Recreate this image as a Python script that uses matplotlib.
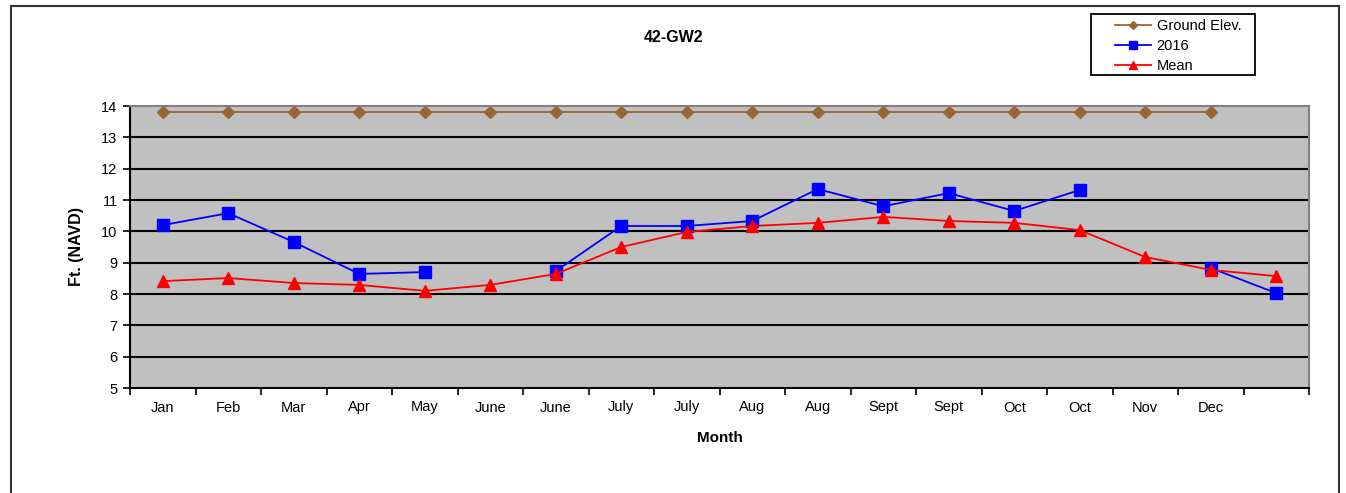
import numpy as np
import matplotlib
matplotlib.use("Agg")
import matplotlib.pyplot as plt
from matplotlib.patches import Rectangle

plt.rcParams['font.family'] = ['Liberation Sans', 'DejaVu Sans']

months = ['Jan', 'Feb', 'Mar', 'Apr', 'May', 'June', 'June', 'July', 'July',
          'Aug', 'Aug', 'Sept', 'Sept', 'Oct', 'Oct', 'Nov', 'Dec', '']
ground = [13.8] * 17 + [np.nan]
y2016 = [10.2, 10.58, 9.66, 8.64, 8.7, np.nan, 8.73, 10.17, 10.17,
         10.33, 11.35, 10.8, 11.22, 10.65, 11.32, np.nan, 8.83, 8.03]
mean = [8.41, 8.51, 8.35, 8.29, 8.1, 8.29, 8.64, 9.5, 9.98,
        10.17, 10.27, 10.46, 10.33, 10.27, 10.04, 9.18, 8.77, 8.57]

x = np.arange(len(months))

fig = plt.figure(figsize=(13.46, 4.93), dpi=100)
ax = fig.add_axes([130/1346, 1 - 388/493, (1309 - 130)/1346, (388 - 106)/493])
ax.set_facecolor('#c0c0c0')

ax.plot(x, ground, color='#996633', marker='D', markersize=6, lw=1.3, label='Ground Elev.')
ax.plot(x, y2016, color='#0000ff', marker='s', markersize=8.5, lw=1.3, label='2016')
ax.plot(x, mean, color='#ff0000', marker='^', markersize=8, lw=1.3, label='Mean')

ax.set_xlim(-0.5, len(months) - 0.5)
ax.set_ylim(5, 14)
ax.set_yticks(range(5, 15))
for v in range(6, 14):
    ax.axhline(v, color='black', lw=1.5, zorder=1)

ax.set_xticks(x)
ax.set_xticklabels(months, fontsize=10.5)
ax.set_xticks(np.arange(-0.5, len(months)), minor=True)
ax.tick_params(axis='x', which='major', length=0, pad=9)
ax.tick_params(axis='x', which='minor', length=5, width=1.2, direction='out')
ax.tick_params(axis='y', labelsize=10.5, length=5, width=1.2, pad=4)

for s in ['left', 'bottom']:
    ax.spines[s].set_color('black')
    ax.spines[s].set_linewidth(1.5)
for s in ['top', 'right']:
    ax.spines[s].set_color('#808080')
    ax.spines[s].set_linewidth(1.5)

ax.set_xlabel('Month', fontsize=11, fontweight='bold', labelpad=12)
ax.set_ylabel('Ft. (NAVD)', fontsize=11.5, fontweight='bold', labelpad=12)
fig.text(674/1346, 1 - 38/493, '42-GW2', ha='center', va='center',
         fontsize=11.5, fontweight='bold')

leg = fig.legend(loc='upper left', bbox_to_anchor=(1115/1346, 1 - 19/493),
                 fontsize=10.5, frameon=False, borderpad=0, labelspacing=0.42,
                 handlelength=2.5, handletextpad=0.35, borderaxespad=0,
                 markerscale=0.75)

fig.patches.append(Rectangle((1091/1346, 1 - 75/493), (1255 - 1091)/1346, 61/493,
                             transform=fig.transFigure, fill=False,
                             edgecolor='black', lw=1.3))
fig.patches.append(Rectangle((11/1346, -0.05), (1339 - 11)/1346, 1.05 - 6/493,
                             transform=fig.transFigure, fill=False,
                             edgecolor='#333333', lw=1.5))

fig.savefig('out.png', dpi=100)
